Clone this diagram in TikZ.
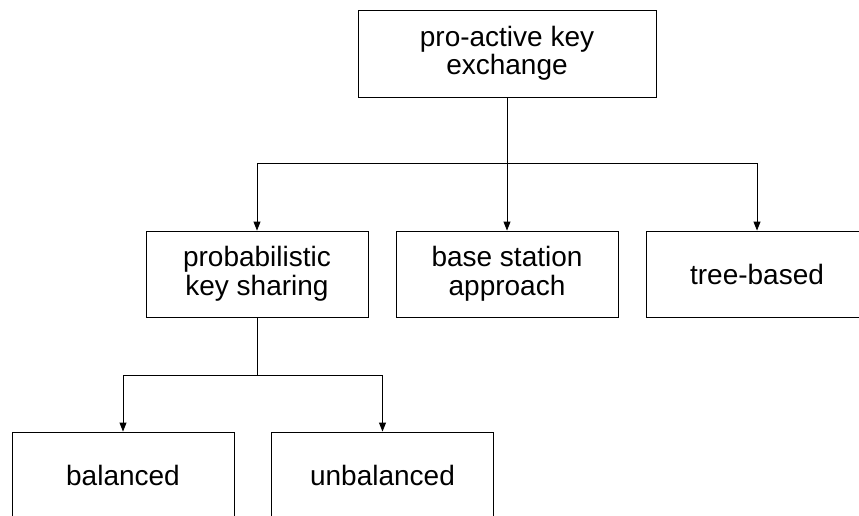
\documentclass[tikz,border=0pt]{standalone}
\usepackage{fontspec}
\setmainfont{Liberation Sans}
\usetikzlibrary{arrows.meta}
\begin{document}
\begin{tikzpicture}[x=1pt,y=-1pt,
  box/.style={draw=black,line width=0.9pt,fill=white,align=center,inner sep=0pt,
    font=\fontsize{28}{28.5}\selectfont},
  topbox/.style={box,minimum width=298pt,minimum height=87pt},
  midbox/.style={box,minimum width=222pt,minimum height=86pt},
  arr/.style={draw=black,line width=0.9pt,-{Triangle[length=9pt,width=7pt]}},
  ln/.style={draw=black,line width=0.9pt}]
\useasboundingbox (0,0) rectangle (859,516);
\clip (0,0) rectangle (859,516);
\node[topbox] (top) at (507,53.5) {pro-active key\\exchange};
\node[midbox] (prob) at (257,274) {probabilistic\\key sharing};
\node[midbox] (base) at (507,274) {base station\\approach};
\node[midbox] (tree) at (757,274) {tree-based};
\node[midbox] (bal) at (123,475) {balanced};
\node[midbox] (unbal) at (382.5,475) {unbalanced};
\coordinate (j1) at (507,163);
\coordinate (j2) at (257,375);
\draw[ln] (top.south) -- (j1);
\draw[arr] (j1) -| (prob.north);
\draw[arr] (j1) -| (tree.north);
\draw[arr] (top.south) -- (base.north);
\draw[ln] (prob.south) -- (j2);
\draw[arr] (j2) -| (bal.north);
\draw[arr] (j2) -| (unbal.north);
\end{tikzpicture}
\end{document}
